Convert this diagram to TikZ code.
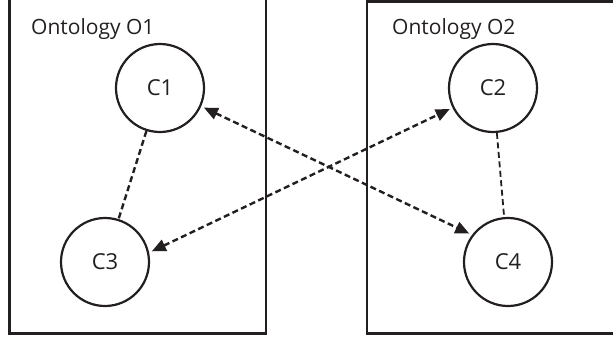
\documentclass[tikz,border=0pt]{standalone}
\usepackage{fontspec}
\setmainfont{Open Sans}
\usetikzlibrary{arrows.meta}
\definecolor{ink}{HTML}{231F20}
\begin{document}
\begin{tikzpicture}[x=1pt,y=-1pt,
  concept/.style={circle,draw=ink,line width=2.2pt,minimum size=88pt,inner sep=0pt,font=\fontsize{22}{24}\selectfont,text=ink},
  frame/.style={draw=ink,line width=2.2pt},
  title/.style={anchor=base west,font=\fontsize{21}{24}\selectfont,text=ink,inner sep=0pt},
  link/.style={draw=ink,line width=2.4pt,dash pattern=on 6pt off 3.5pt},
  mapping/.style={link,{Triangle[length=14pt,width=12pt]}-{Triangle[length=14pt,width=12pt]},shorten <=3pt,shorten >=3pt}]
\useasboundingbox (0,0) rectangle (613,338);
\begin{scope}
\clip (0,0) rectangle (613,338);
\draw[frame] (9.5,-2) rectangle (266,333.5);
\draw[frame] (367,1.5) rectangle (640,333.5);
\node[title] (t1) at (31,34) {Ontology O1};
\node[title] (t2) at (392,34) {Ontology O2};
\node[concept] (C1) at (160,88) {C1};
\node[concept] (C3) at (105,262) {C3};
\node[concept] (C2) at (493,88) {C2};
\node[concept] (C4) at (508,262) {C4};
\draw[link] (C1) -- (C3);
\draw[link,line width=1.8pt] (C2) -- (C4);
\draw[mapping] (C1.-24) -- (C4.143);
\draw[mapping] (C3.12) -- (C2.206);
\end{scope}
\end{tikzpicture}
\end{document}
